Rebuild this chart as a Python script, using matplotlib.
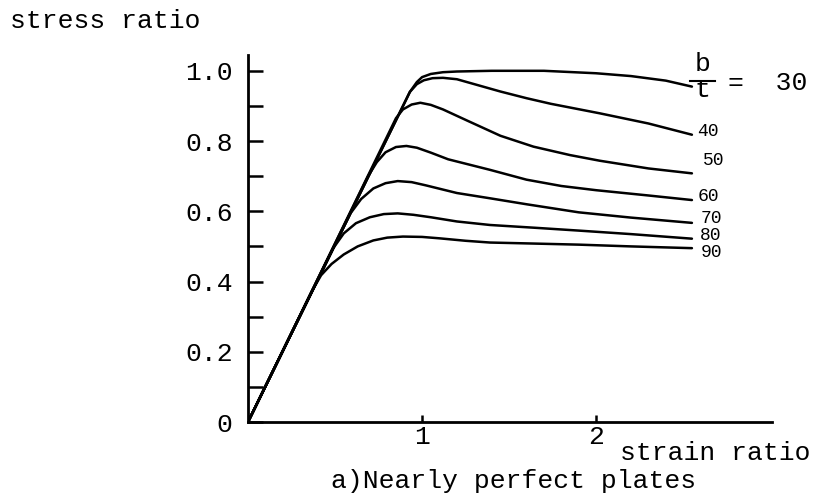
import numpy as np
import matplotlib
matplotlib.use("Agg")
import matplotlib.pyplot as plt

plt.rcParams['font.family'] = ['Liberation Mono', 'DejaVu Sans Mono']

# curves: strain ratio -> stress ratio, one per b/t
bt_values = [30, 40, 50, 60, 70, 80, 90]
strain = {
    30: [0, 0.93, 0.97, 1.0, 1.05, 1.12, 1.2, 1.4, 1.7, 2.0, 2.2, 2.4, 2.55],
    40: [0, 0.93, 0.97, 1.01, 1.06, 1.12, 1.2, 1.3, 1.45, 1.6, 1.74, 2.02, 2.3, 2.55],
    50: [0, 0.85, 0.89, 0.94, 0.99, 1.05, 1.12, 1.26, 1.45, 1.64, 1.85, 2.02, 2.3, 2.55],
    60: [0, 0.69, 0.74, 0.79, 0.85, 0.91, 0.97, 1.05, 1.15, 1.39, 1.6, 1.8, 2.0, 2.3, 2.55],
    70: [0, 0.54, 0.59, 0.65, 0.72, 0.79, 0.86, 0.94, 1.02, 1.2, 1.39, 1.6, 1.9, 2.2, 2.55],
    80: [0, 0.44, 0.49, 0.55, 0.62, 0.70, 0.78, 0.86, 0.95, 1.05, 1.2, 1.39, 1.65, 1.9,
         2.2, 2.55],
    90: [0, 0.37, 0.42, 0.48, 0.55, 0.63, 0.72, 0.80, 0.89, 1.0, 1.1, 1.25, 1.39, 1.65,
         1.9, 2.2, 2.55],
}
stress = {
    30: [0, 0.94, 0.968, 0.982, 0.991, 0.996, 0.998, 1.0, 1.0, 0.993, 0.985, 0.972, 0.955],
    40: [0, 0.94, 0.962, 0.973, 0.979, 0.98, 0.976, 0.962, 0.941, 0.922, 0.906, 0.879,
         0.85, 0.818],
    50: [0, 0.865, 0.89, 0.904, 0.909, 0.903, 0.89, 0.858, 0.815, 0.784, 0.76, 0.744,
         0.722, 0.708],
    60: [0, 0.70, 0.74, 0.768, 0.783, 0.786, 0.781, 0.767, 0.748, 0.718, 0.69, 0.672,
         0.66, 0.645, 0.632],
    70: [0, 0.545, 0.595, 0.635, 0.665, 0.68, 0.686, 0.683, 0.674, 0.652, 0.637, 0.62,
         0.597, 0.582, 0.567],
    80: [0, 0.445, 0.495, 0.537, 0.566, 0.583, 0.592, 0.594, 0.59, 0.583, 0.571, 0.561,
         0.553, 0.545, 0.535, 0.522],
    90: [0, 0.375, 0.418, 0.45, 0.477, 0.50, 0.517, 0.525, 0.528, 0.527, 0.523, 0.516,
         0.511, 0.508, 0.505, 0.50, 0.495],
}
y_ticks = [0, 0.1, 0.2, 0.3, 0.4, 0.5, 0.6, 0.7, 0.8, 0.9, 1.0]
y_ticklabels = ['0', '', '0.2', '', '0.4', '', '0.6', '', '0.8', '', '1.0']
x_ticks = [1, 2]
x_ticklabels = ['1', '2']

W, H = 816, 503
fig = plt.figure(figsize=(W / 100, H / 100), dpi=100)
ax = fig.add_axes([248 / W, 1 - 422 / H, (772 - 248) / W, (422 - 55) / H])

for bt in bt_values:
    ax.plot(strain[bt], stress[bt], color='black', lw=1.8,
            solid_capstyle='round', solid_joinstyle='round')

ax.set_xlim(0, 3.01)
ax.set_ylim(0, 1.045)
for s in ['top', 'right']:
    ax.spines[s].set_visible(False)
for s in ['left', 'bottom']:
    ax.spines[s].set_linewidth(2.0)

ax.set_yticks(y_ticks)
ax.set_yticklabels(y_ticklabels, fontsize=19)
ax.set_xticks(x_ticks)
ax.set_xticklabels(x_ticklabels, fontsize=19)
ax.tick_params(axis='y', direction='in', length=11, width=1.8, pad=11)
ax.tick_params(axis='x', direction='in', length=5, width=1.8, pad=2)

# b/t labels at the curve ends
ax.text(2.609, 1.0, 'b', fontsize=19, ha='center', va='baseline', clip_on=False)
ax.plot([2.54, 2.684], [0.972, 0.972], color='black', lw=1.5, clip_on=False)
ax.text(2.609, 0.925, 't', fontsize=19, ha='center', va='baseline', clip_on=False)
ax.text(2.755, 0.946, '=  30', fontsize=19, ha='left', va='baseline', clip_on=False)

small_x = [2.58, 2.615, 2.58, 2.598, 2.598, 2.598]
small_y = [0.813, 0.732, 0.628, 0.568, 0.518, 0.47]
for bt, lx, ly in zip(bt_values[1:], small_x, small_y):
    ax.text(lx, ly, str(bt), fontsize=13, ha='left', va='baseline', clip_on=False)

fig.text(10 / W, 1 - 28 / H, 'stress ratio', fontsize=19, ha='left', va='baseline')
fig.text(620 / W, 1 - 460 / H, 'strain ratio', fontsize=19, ha='left', va='baseline')
fig.text(514 / W, 1 - 488 / H, 'a)Nearly perfect plates', fontsize=19, ha='center', va='baseline')

fig.savefig('out.png', dpi=100)
